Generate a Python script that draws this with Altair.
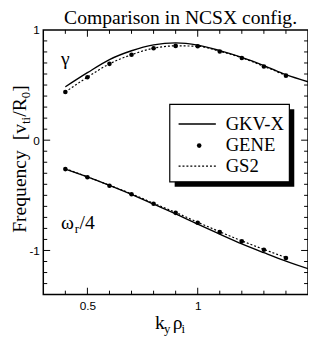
import altair as alt
import pandas as pd

# ---- data ----
ky = [0.4, 0.5, 0.6, 0.7, 0.8, 0.9, 1.0, 1.1, 1.2, 1.3, 1.4]
ky_gkv = [0.4, 0.5, 0.6, 0.7, 0.8, 0.9, 1.0, 1.1, 1.2, 1.3, 1.4, 1.5]

gamma_gkv = [0.484, 0.612, 0.731, 0.811, 0.864, 0.882, 0.862, 0.812, 0.751, 0.677, 0.594, 0.529]
gamma_gene = [0.437, 0.571, 0.692, 0.775, 0.834, 0.855, 0.852, 0.804, 0.745, 0.668, 0.585]
gamma_gs2 = [0.437, 0.571, 0.692, 0.775, 0.834, 0.855, 0.852, 0.806, 0.747, 0.670, 0.587]

omega_gkv = [-0.262, -0.333, -0.410, -0.492, -0.580, -0.668, -0.762, -0.852, -0.940, -1.020, -1.097, -1.165]
omega_gene = [-0.262, -0.336, -0.413, -0.490, -0.576, -0.659, -0.748, -0.834, -0.917, -0.994, -1.068]
omega_gs2 = [-0.258, -0.332, -0.409, -0.486, -0.572, -0.655, -0.744, -0.830, -0.913, -0.990, -1.064]

x_minor = [0.4, 0.6, 0.7, 0.8, 0.9, 1.1, 1.2, 1.3, 1.4]
x_major = [0.5, 1.0]
y_minor = [round(-1.3 + 0.1 * i, 1) for i in range(23)]
y_minor = [v for v in y_minor if v not in (-1.0, 0.0, 1.0)]
y_major = [-1.0, 0.0]
x_labels = [0.5, 1]
y_labels = [-1, 0, 1]

W, H = 270, 270
SERIF = "Liberation Serif"
SANS = "Liberation Sans"

xscale = alt.Scale(domain=[0.3, 1.5], nice=False, zero=False)
yscale = alt.Scale(domain=[-1.4, 1.0], nice=False, zero=False)

xaxis = alt.Axis(values=x_labels, ticks=False, domain=False, grid=False, title=None,
                 labelFont=SANS, labelFontSize=12, labelColor="black",
                 labelPadding=6, labelExpr="datum.value + ''")
yaxis = alt.Axis(values=y_labels, ticks=False, domain=False, grid=False, title=None,
                 labelFont=SANS, labelFontSize=12, labelColor="black",
                 labelPadding=4, labelExpr="datum.value + ''")

def XE(f):
    return alt.X(f + ":Q", scale=xscale, axis=xaxis, title=None)

def YE(f):
    return alt.Y(f + ":Q", scale=yscale, axis=yaxis, title=None)

def long(xs, ys, grp):
    return pd.DataFrame({"ky": xs, "val": ys, "grp": grp})

gkv = pd.concat([long(ky_gkv, gamma_gkv, "g"), long(ky_gkv, omega_gkv, "w")])
gs2 = pd.concat([long(ky, gamma_gs2, "g"), long(ky, omega_gs2, "w")])
gene = pd.concat([long(ky, gamma_gene, "g"), long(ky, omega_gene, "w")])

line_gkv = alt.Chart(gkv).mark_line(color="black", strokeWidth=1.4, interpolate="monotone").encode(
    x=XE("ky"), y=YE("val"), detail="grp:N")
line_gs2 = alt.Chart(gs2).mark_line(color="black", strokeWidth=1.2, strokeDash=[2, 2],
                                    interpolate="monotone").encode(
    x=XE("ky"), y=YE("val"), detail="grp:N")
pts_gene = alt.Chart(gene).mark_circle(color="black", opacity=1, size=22).encode(
    x=XE("ky"), y=YE("val"))

def xticks(vals, length):
    d = pd.DataFrame({"ky": vals})
    bot = alt.Chart(d).mark_rule(color="black", strokeWidth=1).encode(
        x=XE("ky"), y=alt.value(H), y2=alt.value(H - length))
    top = alt.Chart(d).mark_rule(color="black", strokeWidth=1).encode(
        x=XE("ky"), y=alt.value(0), y2=alt.value(length))
    return [bot, top]

def yticks(vals, length):
    d = pd.DataFrame({"val": vals})
    left = alt.Chart(d).mark_rule(color="black", strokeWidth=1).encode(
        y=YE("val"), x=alt.value(0), x2=alt.value(length))
    right = alt.Chart(d).mark_rule(color="black", strokeWidth=1).encode(
        y=YE("val"), x=alt.value(W), x2=alt.value(W - length))
    return [left, right]

one = pd.DataFrame({"a": [0]})

def txt(s, x, y, size=20, angle=0, font=SERIF, align="left", baseline="alphabetic"):
    kw = dict(text=s, font=font, fontSize=size, color="black", align=align, baseline=baseline)
    if angle:
        kw["angle"] = angle
    return alt.Chart(one).mark_text(**kw).encode(x=alt.value(x), y=alt.value(y))

# legend
shadow = alt.Chart(one).mark_rect(color="black").encode(
    x=alt.value(134), x2=alt.value(256), y=alt.value(81), y2=alt.value(160))
box = alt.Chart(one).mark_rect(fill="white", stroke="black", strokeWidth=1.2).encode(
    x=alt.value(129), x2=alt.value(251), y=alt.value(76), y2=alt.value(155))
leg_l1 = alt.Chart(one).mark_rule(color="black", strokeWidth=1.4).encode(
    x=alt.value(138), x2=alt.value(176), y=alt.value(96))
leg_l3 = alt.Chart(one).mark_rule(color="black", strokeWidth=1.2, strokeDash=[2, 2]).encode(
    x=alt.value(138), x2=alt.value(176), y=alt.value(139))
leg_pt = alt.Chart(one).mark_circle(color="black", opacity=1, size=22).encode(
    x=alt.value(159), y=alt.value(118))
leg_t = [txt("GKV-X", 186, 96, 19, baseline="middle"),
         txt("GENE", 186, 118, 19, baseline="middle"),
         txt("GS2", 186, 139, 19, baseline="middle")]

YT = -18
texts = [
    txt("Comparison in NCSX config.", 140, -6, 20, align="center"),
    txt("γ", 18, 36, 20),
    txt("ω", 18, 203, 20), txt("r", 32, 207, 13), txt("/4", 37, 203, 20),
    txt("k", 114, 305, 20), txt("y", 123, 309, 13), txt("ρ", 132, 305, 20), txt("i", 141, 309, 13),
    txt("Frequency\u00a0\u00a0[v", YT, 207, 20, angle=270),
    txt("ti", YT + 4, 96, 13, angle=270),
    txt("/R", YT, 88.5, 20, angle=270),
    txt("0", YT + 4, 69.6, 13, angle=270),
    txt("]", YT, 63, 20, angle=270),
]

layers = [line_gkv, line_gs2, pts_gene] + xticks(x_minor, 4) + xticks(x_major, 7) \
    + yticks(y_minor, 4) + yticks(y_major, 7) \
    + [shadow, box, leg_l1, leg_l3, leg_pt] + leg_t + texts

chart = alt.layer(*layers).properties(
    width=W, height=H,
    autosize=alt.AutoSizeParams(type="none"),
    padding={"left": 36, "top": 19, "right": 0, "bottom": 44},
    background="white",
).configure_view(stroke="black", strokeWidth=1.5)

chart.save("out.html", embed_options={"renderer": "svg", "actions": False})
